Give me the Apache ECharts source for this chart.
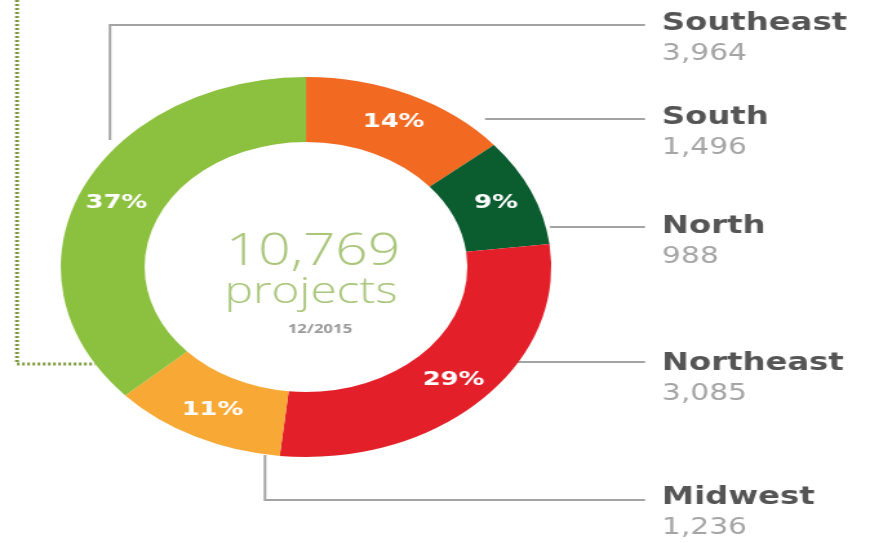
<!DOCTYPE html>
<html>
<head>
<meta charset="utf-8">
<script src="https://cdn.jsdelivr.net/npm/echarts@6/dist/echarts.min.js"></script>
<style>
html,body{margin:0;padding:0;background:#fff;overflow:hidden;}
#wrap{width:870px;height:543px;overflow:hidden;position:relative;}
#main{width:674px;height:543px;transform:scaleX(1.2908);transform-origin:0 0;}
</style>
</head>
<body>
<div id="wrap"><div id="main"></div></div>
<script>
// ---- data ----
const categories = ['South', 'North', 'Northeast', 'Midwest', 'Southeast'];
const values = [1496, 988, 3085, 1236, 3964];
const sliceColors = ['#f26a21', '#0b5c2f', '#e3202a', '#f8a935', '#8cc13f'];
const centerTotal = '10,769';
const centerUnit = 'projects';
const centerDate = '12/2015';
// right-hand legend order
const legendOrder = ['Southeast', 'South', 'North', 'Northeast', 'Midwest'];

// ---- layout (unscaled coords; container is stretched horizontally) ----
const S = 1.2908;
const X = v => v / S;
const cx = X(306), cy = 267;
const legendX = X(662);
const lineEnd = X(645);
const legendNameY = [23, 117, 226, 363, 497];
const leaderPaths = [
  [[X(110), 140], [X(110), 25], [lineEnd, 25]],
  [[X(485), 119], [lineEnd, 119]],
  [[X(550), 227], [lineEnd, 227]],
  [[X(490), 362], [lineEnd, 362]],
  [[X(265), 455], [X(265), 500], [lineEnd, 500]]
];

const chart = echarts.init(document.getElementById('main'), null, {renderer: 'canvas'});

const graphics = [];
// dotted green line on the left
graphics.push({
  type: 'polyline', silent: true,
  shape: {points: [[X(17), 0], [X(17), 364], [X(95), 364]]},
  style: {stroke: '#7f9a3e', lineWidth: 3, lineDash: [2, 2], fill: null}
});
leaderPaths.forEach(p => {
  graphics.push({
    type: 'polyline', silent: true,
    shape: {points: p},
    style: {stroke: '#a3a3a3', lineWidth: 2, fill: null}
  });
});
legendOrder.forEach((name, i) => {
  const v = values[categories.indexOf(name)];
  graphics.push({
    type: 'text', silent: true, x: legendX, y: legendNameY[i],
    style: {text: name, fill: '#555555', font: 'bold 25px "DejaVu Sans"', textAlign: 'left', textVerticalAlign: 'middle'}
  });
  graphics.push({
    type: 'text', silent: true, x: legendX, y: legendNameY[i] + 31,
    style: {text: v.toLocaleString('en-US'), fill: '#a5a5a5', font: '23px "DejaVu Sans"', textAlign: 'left', textVerticalAlign: 'middle'}
  });
});
// center texts
graphics.push({
  type: 'text', silent: true, x: X(313), y: 252,
  style: {text: centerTotal, fill: '#a9c67a', font: '300 44px "Open Sans"', textAlign: 'center', textVerticalAlign: 'middle'}
});
graphics.push({
  type: 'text', silent: true, x: X(311), y: 292,
  style: {text: centerUnit, fill: '#a9c67a', font: '300 37px "Open Sans"', textAlign: 'center', textVerticalAlign: 'middle'}
});
graphics.push({
  type: 'text', silent: true, x: X(320), y: 329,
  style: {text: centerDate, fill: '#9a9a9a', font: 'bold 13px "Open Sans"', textAlign: 'center', textVerticalAlign: 'middle'}
});

chart.setOption({
  animation: false,
  backgroundColor: '#ffffff',
  series: [{
    type: 'pie',
    center: [cx, cy],
    radius: [125, 190],
    startAngle: 90,
    clockwise: true,
    silent: true,
    percentPrecision: 0,
    avoidLabelOverlap: false,
    emphasis: {disabled: true},
    label: {
      show: true, position: 'inside', formatter: '{d}%',
      color: '#ffffff', fontWeight: 'bold', fontSize: 20, fontFamily: 'DejaVu Sans'
    },
    labelLine: {show: false},
    itemStyle: {borderWidth: 0},
    data: categories.map((c, i) => ({name: c, value: values[i], itemStyle: {color: sliceColors[i]}}))
  }],
  graphic: graphics
});
</script>
</body>
</html>
